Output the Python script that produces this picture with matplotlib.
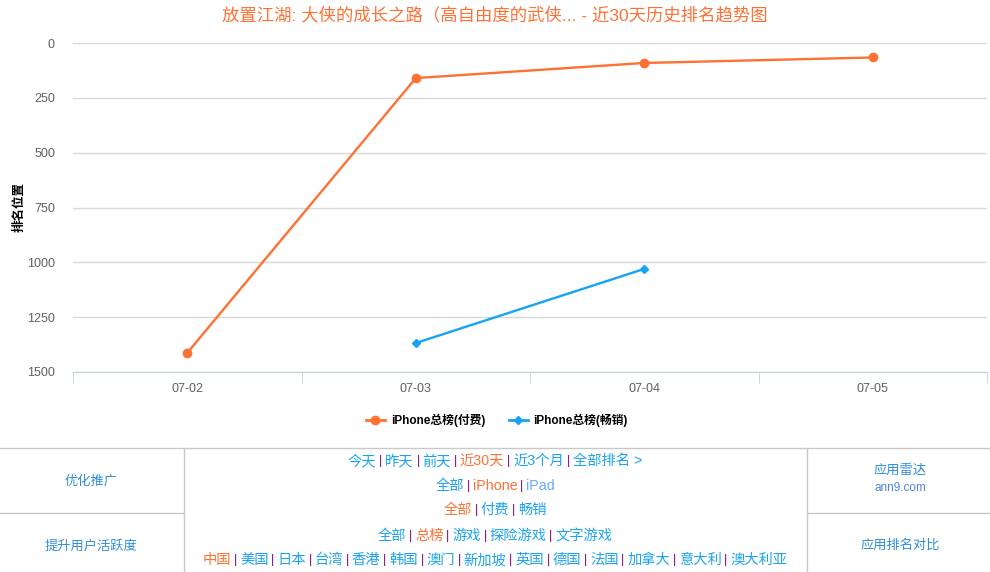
import matplotlib
matplotlib.use("Agg")
import matplotlib.pyplot as plt
from matplotlib.lines import Line2D
from matplotlib.offsetbox import TextArea, HPacker, AnchoredOffsetbox

plt.rcParams['font.family'] = ['Liberation Sans', 'Noto Sans CJK SC', 'DejaVu Sans']

# data
dates = ["07-02", "07-03", "07-04", "07-05"]
paid_rank = [1413, 160, 91, 66]
grossing_dates = ["07-03", "07-04"]
grossing_rank = [1368, 1030]
y_ticks = [0, 250, 500, 750, 1000, 1250, 1500]

title = "放置江湖: 大侠的成长之路（高自由度的武侠... - 近30天历史排名趋势图"
series_names = ["iPhone总榜(付费)", "iPhone总榜(畅销)"]

ORANGE = "#ff7033"
BLUE = "#16a3f5"
LINK = "#1aa3f0"
SEP = "#800080"

fig = plt.figure(figsize=(9.9, 5.72), dpi=100)
ax = fig.add_axes([73 / 990, 1 - 372 / 572, 914 / 990, 329 / 572])

x_paid = [dates.index(d) for d in dates]
x_gross = [dates.index(d) for d in grossing_dates]
ax.plot(x_paid, paid_rank, color=ORANGE, lw=1.7, marker="o", ms=6, zorder=3)
ax.plot(x_gross, grossing_rank, color=BLUE, lw=1.7, marker="D", ms=4.5, zorder=3)

ax.set_xlim(-0.5, len(dates) - 0.5)
ax.set_ylim(1500, 0)
ax.set_yticks(y_ticks)
ax.set_yticklabels([str(v) for v in y_ticks], color="#606060", fontsize=9)
ax.set_xticks(range(len(dates)))
ax.set_xticklabels(dates, color="#606060", fontsize=9)
ax.tick_params(axis="x", length=0, pad=8)
ax.tick_params(axis="y", length=0, pad=13)
ax.set_xticks([i - 0.5 for i in range(len(dates) + 1)], minor=True)
ax.tick_params(axis="x", which="minor", length=8, color="#c0d0e0")
ax.grid(axis="y", color="#d8d8d8", lw=1)
ax.set_axisbelow(True)
for s in ["top", "right", "left"]:
    ax.spines[s].set_visible(False)
ax.spines["bottom"].set_color("#c0d0e0")
ax.set_ylabel("排名位置", fontsize=9, fontweight="bold")
ax.yaxis.set_label_coords(-0.052, 0.5)

fig.text(495 / 990, 1 - 15 / 572, title, color=ORANGE, fontsize=12.5,
         ha="center", va="center")

handles = [Line2D([], [], color=ORANGE, lw=2, marker="o", ms=6),
           Line2D([], [], color=BLUE, lw=2, marker="D", ms=4.5)]
fig.legend(handles, series_names, loc="center", bbox_to_anchor=(497 / 990, 1 - 420 / 572),
           ncol=2, frameon=False, prop={"size": 8.5, "weight": "bold"},
           handlelength=1.6, columnspacing=2.0, handletextpad=0.5)

# bottom navigation table
def hline(y, x0, x1):
    fig.add_artist(Line2D([x0 / 990, x1 / 990], [1 - y / 572, 1 - y / 572],
                          color="#c8c8c8", lw=1))

def vline(x, y0, y1):
    fig.add_artist(Line2D([x / 990, x / 990], [1 - y0 / 572, 1 - y1 / 572],
                          color="#c8c8c8", lw=1))

hline(448, 0, 990)
hline(513, 0, 184)
hline(513, 807, 990)
vline(184, 448, 572)
vline(807, 448, 572)

side_color = "#2f8fdc"
fig.text(91 / 990, 1 - 481 / 572, "优化推广", color=side_color, fontsize=9.5, ha="center", va="center")
fig.text(91 / 990, 1 - 546 / 572, "提升用户活跃度", color=side_color, fontsize=9.5, ha="center", va="center")
fig.text(900 / 990, 1 - 471 / 572, "应用雷达", color=side_color, fontsize=9.5, ha="center", va="center")
fig.text(900 / 990, 1 - 488 / 572, "ann9.com", color="#4f86d8", fontsize=8.5, ha="center", va="center")
fig.text(900 / 990, 1 - 546 / 572, "应用排名对比", color=side_color, fontsize=9.5, ha="center", va="center")

nav_rows = [
    (461, [("今天", LINK), ("昨天", LINK), ("前天", LINK), ("近30天", ORANGE),
           ("近3个月", LINK), ("全部排名 >", LINK)]),
    (486, [("全部", LINK), ("iPhone", ORANGE), ("iPad", "#66aaff")]),
    (510, [("全部", ORANGE), ("付费", LINK), ("畅销", LINK)]),
    (536, [("全部", LINK), ("总榜", ORANGE), ("游戏", LINK), ("探险游戏", LINK), ("文字游戏", LINK)]),
    (560, [("中国", ORANGE), ("美国", LINK), ("日本", LINK), ("台湾", LINK), ("香港", LINK),
           ("韩国", LINK), ("澳门", LINK), ("新加坡", LINK), ("英国", LINK), ("德国", LINK),
           ("法国", LINK), ("加拿大", LINK), ("意大利", LINK), ("澳大利亚", LINK)]),
]

for y, items in nav_rows:
    parts = []
    for i, (txt, col) in enumerate(items):
        if i > 0:
            parts.append(TextArea("|", textprops=dict(color=SEP, fontsize=9)))
        parts.append(TextArea(txt, textprops=dict(color=col, fontsize=10.3)))
    box = HPacker(children=parts, align="center", pad=0, sep=2)
    anchored = AnchoredOffsetbox(loc="center", child=box, frameon=False, pad=0,
                                 bbox_to_anchor=(495 / 990, 1 - y / 572),
                                 bbox_transform=fig.transFigure, borderpad=0)
    fig.add_artist(anchored)

fig.savefig("out.png", dpi=100)
